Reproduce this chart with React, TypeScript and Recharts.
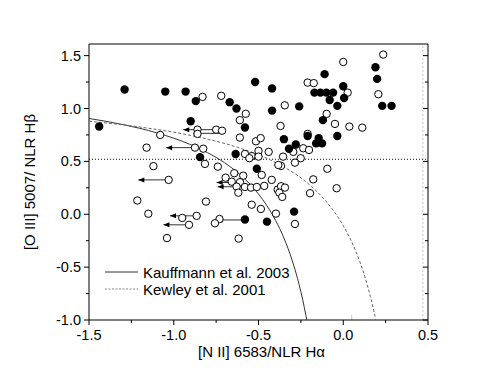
import React from "react";
import { ScatterChart, Scatter, XAxis, YAxis, ReferenceLine, Legend } from "recharts";

document.body.style.margin = "0";

const FONT = "'Liberation Sans', Arial, sans-serif";

// axis ticks (majors every 0.5 get a label, the rest are minor)
const xTicks = [-1.5, -1.25, -1.0, -0.75, -0.5, -0.25, 0.0, 0.25, 0.5];
const yTicks = [-1.0, -0.75, -0.5, -0.25, 0.0, 0.25, 0.5, 0.75, 1.0, 1.25, 1.5];

// filled circles
const filledX = [-1.44, -1.29, -1.05, -0.93, -0.87, -0.9, -0.67, -0.63, -0.58, -0.52, -0.42, -0.42, -0.26, -0.35, -0.32, -0.28, -0.635, -0.845, -0.51, -0.58, -0.45, -0.29, -0.17, -0.135, -0.1, -0.06, -0.11, 0.0, 0.005, -0.08, -0.035, 0.19, 0.2, 0.23, 0.285, -0.12, -0.035, -0.21, -0.145, -0.16, -0.125];
const filledY = [0.83, 1.18, 1.16, 1.16, 1.07, 0.88, 1.06, 1.0, 0.82, 1.25, 1.19, 0.98, 1.02, 0.71, 0.62, 0.66, 0.57, 0.54, 0.43, -0.05, -0.07, 0.025, 1.15, 1.15, 1.15, 1.15, 1.325, 1.21, 1.1, 1.08, 1.025, 1.39, 1.28, 1.025, 1.025, 0.89, 0.74, 0.74, 0.72, 0.67, 0.67];

// open circles
const openX = [-0.83, -0.72, -0.575, -0.61, -0.61, -0.345, -0.37, -0.515, -0.487, -0.5, -0.44, -0.58, -0.54, -0.5, -0.295, -0.355, -0.86, -0.86, -0.75, -0.715, -1.08, -1.16, -0.875, -0.826, -0.816, -1.12, -0.74, -1.03, -1.215, -1.15, -0.95, -0.865, -0.91, -1.04, -0.81, -0.73, -0.757, -0.617, -0.54, -0.643, -0.694, -0.59, -0.658, -0.609, -0.629, -0.58, -0.619, -0.544, -0.51, -0.466, -0.422, -0.481, -0.387, -0.367, -0.344, -0.377, -0.36, -0.486, -0.397, -0.285, -0.367, -0.383, -0.21, -0.174, 0.0, 0.236, 0.207, 0.026, -0.098, -0.049, 0.036, 0.112, -0.21, -0.236, -0.202, -0.251, -0.285, -0.177, -0.094, -0.196, -0.039, -0.554];
const openY = [1.11, 1.12, 0.95, 0.89, 0.725, 1.03, 0.835, 0.69, 0.72, 0.6, 0.59, 0.57, 0.55, 0.545, 0.59, 0.545, 0.8, 0.76, 0.8, 0.79, 0.75, 0.63, 0.63, 0.62, 0.476, 0.455, 0.45, 0.325, 0.13, 0.005, -0.035, -0.015, -0.1, -0.225, 0.12, -0.045, -0.085, -0.23, 0.09, 0.388, 0.346, 0.365, 0.308, 0.303, 0.261, 0.258, 0.204, 0.252, 0.258, 0.268, 0.325, 0.372, 0.233, 0.265, 0.252, 0.204, 0.164, 0.05, 0.006, -0.092, 0.457, 0.466, 1.245, 1.24, 1.44, 1.51, 1.135, 1.15, 0.949, 0.854, 0.829, 0.819, 0.76, 0.624, 0.608, 0.53, 0.488, 0.33, 0.43, 0.199, 0.246, 0.53];

// upper-limit arrows: start, tip, level
const arrowFromX = [-0.75, -0.715, -0.875, -1.03, -0.865, -0.91, -0.58, -0.658, -0.629];
const arrowToX = [-0.944, -0.886, -1.045, -1.209, -1.022, -1.061, -0.747, -0.747, -0.741];
const arrowY = [0.8, 0.765, 0.63, 0.325, -0.015, -0.1, -0.054, 0.3, 0.26];

// demarcation curves
const kauffX = [-1.5, -1.3, -1.1, -0.9, -0.8, -0.7, -0.6, -0.5, -0.45, -0.4, -0.35, -0.3, -0.27, -0.25, -0.24, -0.22, -0.215];
const kauffY = [0.906, 0.848, 0.77, 0.658, 0.582, 0.487, 0.362, 0.191, 0.08, -0.056, -0.225, -0.443, -0.606, -0.733, -0.803, -0.959, -1.0];
const kewleyX = [-1.5, -1.2, -0.9, -0.6, -0.4, -0.2, -0.1, 0.0, 0.05, 0.1, 0.13, 0.16, 0.17, 0.18, 0.19, 0.191];
const kewleyY = [0.88, 0.825, 0.745, 0.62, 0.489, 0.28, 0.12, -0.108, -0.262, -0.459, -0.604, -0.778, -0.843, -0.913, -0.989, -1.0];

const dividerY = 0.52;
const legendLabels = ["Kauffmann et al. 2003", "Kewley et al. 2001"];

const filled = filledX.map((x, i) => ({ x, y: filledY[i] }));
const open = openX.map((x, i) => ({ x, y: openY[i] }));
const kauff = kauffX.map((x, i) => ({ x, y: kauffY[i] }));
const kewley = kewleyX.map((x, i) => ({ x, y: kewleyY[i] }));
const arrows = arrowFromX.map((x, i) => [
  { x, y: arrowY[i] },
  { x: arrowToX[i], y: arrowY[i], head: true },
]);

const isMajor = (v: number) => Math.abs(v * 2 - Math.round(v * 2)) < 1e-6;

const BottomTick = ({ x, y, payload }: any) => {
  const major = isMajor(payload.value);
  return (
    <g>
      <line x1={x} y1={y} x2={x} y2={y + (major ? 5 : 3)} stroke="#000" />
      {major && (
        <text x={x} y={y + 20} textAnchor="middle" fontSize={14.5} fontFamily={FONT} fill="#000">
          {payload.value.toFixed(1)}
        </text>
      )}
    </g>
  );
};

const TopTick = ({ x, y, payload }: any) => (
  <line x1={x} y1={y} x2={x} y2={y + (isMajor(payload.value) ? 5 : 3)} stroke="#000" />
);

const LeftTick = ({ x, y, payload }: any) => {
  const major = isMajor(payload.value);
  return (
    <g>
      <line x1={x - (major ? 5 : 3)} y1={y} x2={x} y2={y} stroke="#000" />
      {major && (
        <text x={x - 8} y={y} dy={5} textAnchor="end" fontSize={14.5} fontFamily={FONT} fill="#000">
          {payload.value.toFixed(1)}
        </text>
      )}
    </g>
  );
};

const RightTick = ({ x, y, payload }: any) => (
  <line x1={x - (isMajor(payload.value) ? 5 : 3)} y1={y} x2={x} y2={y} stroke="#000" />
);

const XTitle = ({ viewBox }: any) => (
  <text x={viewBox.x + viewBox.width / 2 + 3} y={viewBox.y + 37} textAnchor="middle" fontSize={15} fontFamily={FONT} fill="#000">
    [N II] 6583/NLR Hα
  </text>
);

const YTitle = ({ viewBox }: any) => {
  const cx = viewBox.x + 30;
  const cy = viewBox.y + viewBox.height / 2;
  return (
    <text x={cx} y={cy} dy={5} transform={`rotate(-90 ${cx} ${cy})`} textAnchor="middle" fontSize={15} fontFamily={FONT} fill="#000">
      [O III] 5007/ NLR Hβ
    </text>
  );
};

const FilledDot = ({ cx, cy }: any) => <circle cx={cx} cy={cy} r={4.2} fill="#000" />;
const OpenDot = ({ cx, cy }: any) => <circle cx={cx} cy={cy} r={3.7} fill="#fff" stroke="#000" strokeWidth={1} />;
const ArrowHead = ({ cx, cy, payload }: any) =>
  payload && payload.head ? (
    <polygon points={`${cx},${cy} ${cx + 6},${cy - 2.5} ${cx + 6},${cy + 2.5}`} fill="#000" />
  ) : (
    <g />
  );
const NoDot = () => <g />;

const LegendBox = () => (
  <div style={{ fontFamily: FONT, fontSize: 15, color: "#000" }}>
    {legendLabels.map((t, i) => (
      <div key={t} style={{ display: "flex", alignItems: "center", height: 17, whiteSpace: "nowrap" }}>
        <svg width={33} height={4} style={{ marginRight: 5 }}>
          <line x1={0} y1={2} x2={33} y2={2} stroke={i === 0 ? "#333" : "#888"} strokeDasharray={i === 0 ? undefined : "2 1.5"} />
        </svg>
        <span>{t}</span>
      </div>
    ))}
  </div>
);

export default function App() {
  return (
    <ScatterChart width={498} height={385} margin={{ top: 34, right: 60, bottom: 0, left: 0 }}>
      <XAxis
        xAxisId="b" type="number" dataKey="x" orientation="bottom" domain={[-1.5, 0.5]}
        ticks={xTicks} interval={0} allowDataOverflow height={65}
        tickSize={0} tickMargin={0} tickLine={false} tick={BottomTick}
        axisLine={{ stroke: "#000" }} label={<XTitle />}
      />
      <XAxis
        xAxisId="t" type="number" orientation="top" domain={[-1.5, 0.5]}
        ticks={xTicks} interval={0} allowDataOverflow height={10}
        tickSize={0} tickMargin={0} tickLine={false} tick={TopTick}
        axisLine={{ stroke: "#000" }}
      />
      <YAxis
        yAxisId="l" type="number" dataKey="y" domain={[-1.0, 1.61]}
        ticks={yTicks} interval={0} allowDataOverflow width={89}
        tickSize={0} tickMargin={0} tickLine={false} tick={LeftTick}
        axisLine={{ stroke: "#000" }} label={<YTitle />}
      />
      <YAxis
        yAxisId="r" type="number" orientation="right" domain={[-1.0, 1.61]}
        ticks={yTicks} interval={0} allowDataOverflow width={10}
        tickSize={0} tickMargin={0} tickLine={false} tick={RightTick}
        axisLine={{ stroke: "#000" }}
      />

      <ReferenceLine xAxisId="b" yAxisId="l" x={0.47} stroke="#c8c8c8" strokeDasharray="2 2" />
      <ReferenceLine xAxisId="b" yAxisId="l" segment={[{ x: 0.05, y: -1.0 }, { x: 0.05, y: -0.95 }]} stroke="#c8c8c8" />
      <ReferenceLine xAxisId="b" yAxisId="l" y={dividerY} stroke="#000" strokeDasharray="1 2" />

      <Scatter
        xAxisId="b" yAxisId="l" data={kauff} line={{ stroke: "#333", strokeWidth: 1 }}
        lineJointType="monotoneX" shape={NoDot} isAnimationActive={false} legendType="none"
      />
      <Scatter
        xAxisId="b" yAxisId="l" data={kewley} line={{ stroke: "#666", strokeWidth: 1, strokeDasharray: "3 2" }}
        lineJointType="monotoneX" shape={NoDot} isAnimationActive={false} legendType="none"
      />

      {arrows.map((a, i) => (
        <Scatter
          key={i} xAxisId="b" yAxisId="l" data={a} line={{ stroke: "#333", strokeWidth: 1 }}
          shape={ArrowHead} isAnimationActive={false} legendType="none"
        />
      ))}

      <Scatter xAxisId="b" yAxisId="l" data={open} shape={OpenDot} isAnimationActive={false} legendType="none" />
      <Scatter xAxisId="b" yAxisId="l" data={filled} shape={FilledDot} isAnimationActive={false} legendType="none" />

      <Legend
        layout="horizontal" verticalAlign="middle" align="center" content={LegendBox}
        wrapperStyle={{ left: 105, top: 263.5, width: "auto" }}
      />
    </ScatterChart>
  );
}
